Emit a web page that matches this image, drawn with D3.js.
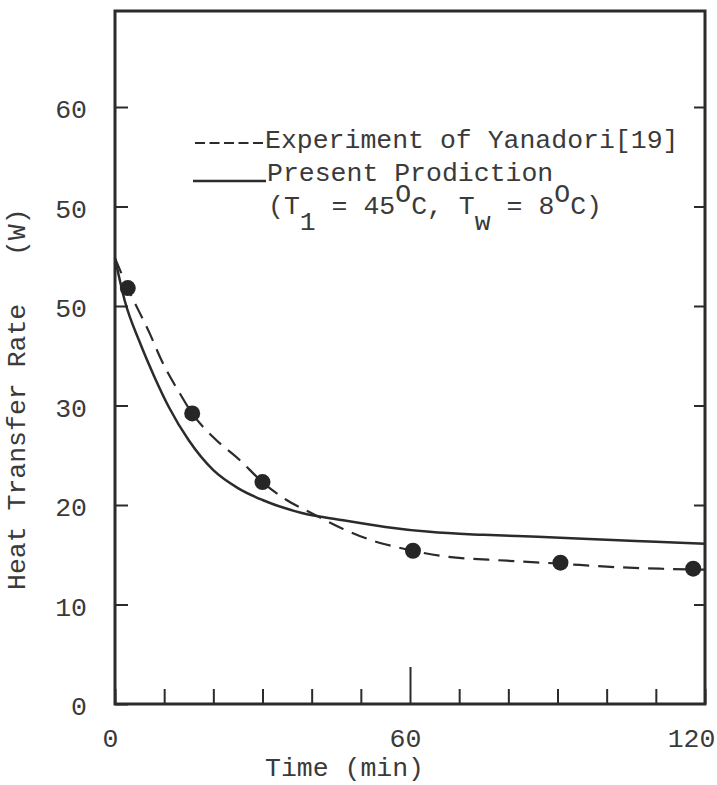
<!DOCTYPE html>
<html>
<head>
<meta charset="utf-8">
<script src="https://cdn.jsdelivr.net/npm/d3@7"></script>
<style>
  body { margin: 0; background: #ffffff; }
  text { font-family: "Liberation Mono", "DejaVu Sans Mono", monospace; fill: #3a3a3a; }
</style>
</head>
<body>
<div id="graph"></div>
<script>
// values
const predTime = [0, 2, 5, 8, 11, 15, 20, 25, 30, 38, 46, 55, 64, 75, 86, 100, 110, 120];
const predRate = [44.8, 40.5, 36.4, 32.9, 29.8, 26.5, 23.5, 21.7, 20.5, 19.2, 18.5, 17.8, 17.3, 17.0, 16.8, 16.5, 16.3, 16.1];

const expTime = [0, 2.6, 7.1, 9.5, 13.2, 15.7, 20, 25.4, 30, 34.9, 40.3, 46.4, 52.5, 57, 60.6, 66.1, 79.7, 90.6, 100, 110.8, 120];
const expRate = [44.8, 41.8, 37.2, 34.5, 31.2, 29.2, 26.8, 24.5, 22.3, 20.5, 19.1, 17.6, 16.4, 15.8, 15.4, 14.9, 14.4, 14.1, 13.8, 13.6, 13.5];

const dotTime = [2.6, 15.7, 30, 60.6, 90.6, 117.6];
const dotRate = [41.8, 29.2, 22.3, 15.4, 14.2, 13.6];

const yTicks = [0, 10, 20, 30, 40, 50, 60];
const yTickLabels = ["0", "10", "20", "30", "50", "50", "60"];   // printed this way in the original
const xTicks = [0, 10, 20, 30, 40, 50, 60, 70, 80, 90, 100, 110, 120];
const xTickLabels = {0: "0", 60: "60", 120: "120"};

const legendExp = "Experiment of Yanadori[19]";
const legendPred = "Present Prodiction";

const width = 717, height = 785;
const ink = "#2b2b2b";
const fontSize = 26.5;
const frameTop = 11;

let svg = d3.select("#graph")
  .append("svg")
  .attr("width", width)
  .attr("height", height);

let x = d3.scaleLinear().domain([0, 120]).range([115, 705]);
let y = d3.scaleLinear().domain([0, 60]).range([704, 107]);

// frame
svg.append("rect")
  .attr("x", x(0))
  .attr("y", frameTop)
  .attr("width", x(120) - x(0))
  .attr("height", y(0) - frameTop)
  .attr("fill", "none")
  .attr("stroke", ink)
  .attr("stroke-width", 3);

// left axis, ticks pointing inward
let yAxis = svg.append("g")
  .attr("transform", `translate(${x(0)}, 0)`)
  .call(d3.axisLeft(y)
    .tickValues(yTicks)
    .tickSizeInner(-13)
    .tickSizeOuter(0)
    .tickPadding(28)
    .tickFormat(function(d, i) { return yTickLabels[i]; }));
yAxis.select(".domain").remove();
yAxis.selectAll("line").attr("stroke", ink).attr("stroke-width", 2);
yAxis.selectAll("text")
  .attr("font-family", null)
  .style("font-size", fontSize + "px")
  .attr("dy", "0.4em");

// right side ticks
let yAxisR = svg.append("g")
  .attr("transform", `translate(${x(120)}, 0)`)
  .call(d3.axisRight(y).tickValues(yTicks.slice(1)).tickSizeInner(-11).tickSizeOuter(0).tickFormat(""));
yAxisR.select(".domain").remove();
yAxisR.selectAll("line").attr("stroke", ink).attr("stroke-width", 2);

// bottom axis
let xAxis = svg.append("g")
  .attr("transform", `translate(0, ${y(0)})`)
  .call(d3.axisBottom(x)
    .tickValues(xTicks)
    .tickSizeInner(-15)
    .tickSizeOuter(0)
    .tickPadding(24)
    .tickFormat(function(d) { return xTickLabels[d] || ""; }));
xAxis.select(".domain").remove();
xAxis.selectAll("line")
  .attr("stroke", ink)
  .attr("stroke-width", 2)
  .attr("y2", function(d) { return d == 60 ? -37 : -15; });
xAxis.selectAll("text")
  .attr("font-family", null)
  .style("font-size", fontSize + "px")
  .attr("dx", function(d) { return d == 120 ? -14 : -5; });

// axis titles
svg.append("text")
  .attr("x", 265)
  .attr("y", 776)
  .style("font-size", fontSize + "px")
  .text("Time (min)");

svg.append("text")
  .attr("transform", `translate(25, 590) rotate(-90)`)
  .style("font-size", fontSize + "px")
  .style("white-space", "pre")
  .text("Heat Transfer Rate   (W)");

// curves
let pred = predTime.map(function(t, i) { return {t: t, v: predRate[i]}; });
let exp = expTime.map(function(t, i) { return {t: t, v: expRate[i]}; });
let dots = dotTime.map(function(t, i) { return {t: t, v: dotRate[i]}; });

let line = d3.line()
  .x(function(d) { return x(d.t); })
  .y(function(d) { return y(d.v); })
  .curve(d3.curveMonotoneX);

svg.append("path")
  .datum(exp)
  .attr("d", line)
  .attr("fill", "none")
  .attr("stroke", ink)
  .attr("stroke-width", 2.2)
  .attr("stroke-dasharray", "16,9");

svg.append("path")
  .datum(pred)
  .attr("d", line)
  .attr("fill", "none")
  .attr("stroke", ink)
  .attr("stroke-width", 2.5);

svg.append("g")
  .selectAll("circle")
  .data(dots)
  .enter()
  .append("circle")
  .attr("cx", function(d) { return x(d.t); })
  .attr("cy", function(d) { return y(d.v); })
  .attr("r", 8)
  .attr("fill", "#262626");

// legend
svg.append("line")
  .attr("x1", 195).attr("x2", 263)
  .attr("y1", 143).attr("y2", 143)
  .attr("stroke", ink)
  .attr("stroke-width", 2)
  .attr("stroke-dasharray", "10,4.5");
svg.append("text")
  .attr("x", 265).attr("y", 148)
  .style("font-size", fontSize + "px")
  .text(legendExp);

svg.append("line")
  .attr("x1", 193).attr("x2", 266)
  .attr("y1", 181).attr("y2", 181)
  .attr("stroke", ink)
  .attr("stroke-width", 2.5);
svg.append("text")
  .attr("x", 267).attr("y", 181)
  .style("font-size", fontSize + "px")
  .text(legendPred);

let cond = svg.append("text")
  .attr("x", 268).attr("y", 214)
  .style("font-size", fontSize + "px")
  .style("white-space", "pre");
cond.append("tspan").text("(T");
cond.append("tspan").attr("dy", 16).text("1");
cond.append("tspan").attr("dy", -16).text(" = 45");
cond.append("tspan").attr("dy", -12).text("O");
cond.append("tspan").attr("dy", 12).text("C, T");
cond.append("tspan").attr("dy", 16).text("w");
cond.append("tspan").attr("dy", -16).text(" = 8");
cond.append("tspan").attr("dy", -12).text("O");
cond.append("tspan").attr("dy", 12).text("C)");
</script>
</body>
</html>
